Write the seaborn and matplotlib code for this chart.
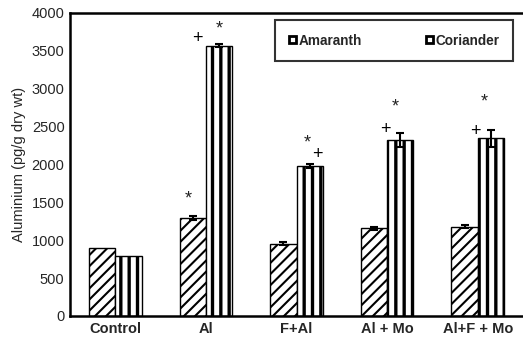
import numpy as np
import pandas as pd
import matplotlib
matplotlib.use("Agg")
import matplotlib.pyplot as plt
import seaborn as sns

# ── Dados ────────────────────────────────────────────────────────────────────
grupos = ["Control", "Al", "F+Al", "Al + Mo", "Al+F + Mo"]
amaranth = [897, 1290, 952, 1155, 1180]
coriander = [788, 3570, 1975, 2320, 2345]
err_amaranth = [0, 25, 20, 25, 25]
err_coriander = [0, 20, 25, 90, 110]

# marcas de significância: (grupo, série, símbolo, deslocamento x, valor y)
marcas = [
    (1, "Amaranth", "*", -0.05, 1540),
    (1, "Coriander", "+", -0.24, 3660),
    (1, "Coriander", "*", 0.0, 3790),
    (2, "Coriander", "*", -0.03, 2280),
    (2, "Coriander", "+", 0.08, 2130),
    (3, "Coriander", "+", -0.16, 2460),
    (3, "Coriander", "*", -0.05, 2760),
    (4, "Coriander", "+", -0.17, 2440),
    (4, "Coriander", "*", -0.07, 2830),
]

df = pd.DataFrame({
    "grupo": grupos * 2,
    "serie": ["Amaranth"] * 5 + ["Coriander"] * 5,
    "valor": amaranth + coriander,
    "erro": err_amaranth + err_coriander,
})

# ── Visual ───────────────────────────────────────────────────────────────────
sns.set_style("white")
plt.rcParams["font.family"] = ["Liberation Sans", "DejaVu Sans"]

fig = plt.figure(figsize=(5.23, 3.4), dpi=100)
ax = fig.add_axes([0.134, 0.0706, 0.866, 0.8914])

sns.barplot(data=df, x="grupo", y="valor", hue="serie", order=grupos,
            hue_order=["Amaranth", "Coriander"], palette=["white", "white"],
            width=0.58, errorbar=None, ax=ax, legend=False, saturation=1)

series = ["Amaranth", "Coriander"]
barras = {}
for cont, nome in zip(ax.containers, series):
    barras[nome] = list(cont.patches)
    for p in cont.patches:
        p.set_edgecolor("black")
        p.set_linewidth(1.0)
        if nome == "Amaranth":
            p.set_hatch("///")
            if hasattr(p, "set_hatch_linewidth"):
                p.set_hatch_linewidth(1.5)
        else:
            p.set_hatch("||")
            if hasattr(p, "set_hatch_linewidth"):
                p.set_hatch_linewidth(2.4)

# barras de erro
for nome in series:
    sub = df[df["serie"] == nome]
    for p, e in zip(barras[nome], sub["erro"]):
        if e > 0:
            xc = p.get_x() + p.get_width() / 2
            ax.errorbar(xc, p.get_height(), yerr=e, color="black", lw=1.5,
                        capsize=3, capthick=1.5, zorder=5)

# símbolos de significância
for gi, nome, simb, dx, yv in marcas:
    p = barras[nome][gi]
    xc = p.get_x() + p.get_width() / 2 + dx
    cor = "#222222" if simb == "*" else "black"
    ax.text(xc, yv, simb, fontsize=13, ha="center", va="center", color=cor)

ax.set_ylim(0, 4000)
ax.set_xlim(-0.5, 4.5)
ax.set_yticks(np.arange(0, 4001, 500))
ax.set_yticklabels([str(v) for v in range(0, 4001, 500)], fontsize=10.5)
ax.set_xticks(range(len(grupos)))
ax.set_xticklabels(grupos, fontsize=10.5, fontweight="bold")
ax.set_xticks(np.arange(0.5, 4.5, 1), minor=True)
ax.tick_params(axis="x", which="major", length=0, pad=4)
ax.tick_params(axis="x", which="minor", length=4, width=1.2, direction="out", color="black")
ax.tick_params(axis="y", length=3, width=1, direction="out", color="black", pad=1)
ax.set_xlabel("")
ax.set_ylabel("Aluminium (pg/g dry wt)", fontsize=10.5, labelpad=4)

for s in ["left", "bottom", "top"]:
    ax.spines[s].set_visible(True)
    ax.spines[s].set_color("black")
    ax.spines[s].set_linewidth(1.8)
ax.spines["right"].set_visible(False)

handles = [barras["Amaranth"][0], barras["Coriander"][0]]
leg = ax.legend(handles, series, loc="upper left",
                bbox_to_anchor=(0.4525, 0.977, 0.5255, 0.0), mode="expand",
                ncol=2, frameon=True, fancybox=False, edgecolor="black",
                prop={"weight": "bold", "size": 9.8}, handlelength=0.55,
                handleheight=0.45, handletextpad=0.15,
                borderpad=1.0, borderaxespad=0)
leg.get_frame().set_linewidth(1.5)
for h in leg.legend_handles:
    h.set_hatch(None)
    h.set_facecolor("white")
    h.set_edgecolor("black")
    h.set_linewidth(2.0)

fig.savefig("out.png", dpi=100)
